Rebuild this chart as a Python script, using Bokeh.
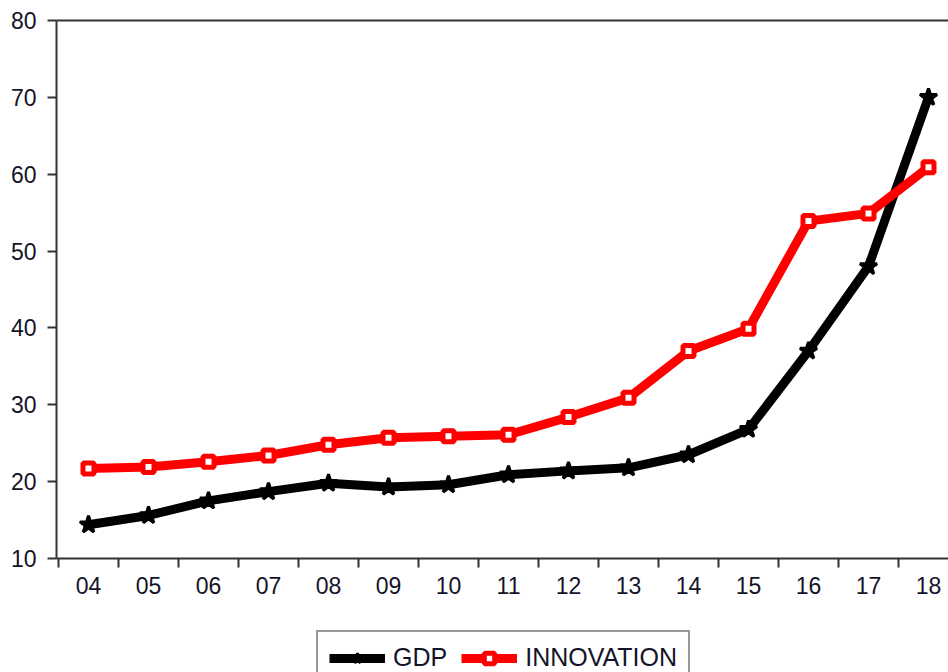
import numpy as np
from bokeh.plotting import figure
from bokeh.layouts import column
from bokeh.models import (Range1d, LinearAxis, FixedTicker, Legend, LegendItem)
from bokeh.embed import file_html
from bokeh.resources import INLINE

years = ["04", "05", "06", "07", "08", "09", "10", "11", "12", "13", "14", "15", "16", "17", "18"]
gdp = [14.4, 15.6, 17.5, 18.7, 19.8, 19.3, 19.6, 20.9, 21.4, 21.8, 23.5, 26.8, 37.0, 48.0, 70.0]
innovation = [21.7, 21.9, 22.6, 23.4, 24.8, 25.7, 25.9, 26.1, 28.4, 30.9, 37.0, 39.9, 53.9, 54.9, 60.9]
y_ticks = [10, 20, 30, 40, 50, 60, 70, 80]

x = list(range(len(years)))
FONT = "Liberation Sans"
TXT = "#141428"
AX = "#333333"

p = figure(width=948, height=620, output_backend="svg", toolbar_location=None,
           x_range=Range1d(-32/60, len(years) - 1 + 20/60), y_range=Range1d(10, 80),
           x_axis_location=None, y_axis_location=None,
           min_border_left=56, min_border_right=0, min_border_top=20, min_border_bottom=62)
p.xgrid.visible = False
p.ygrid.visible = False
p.outline_line_color = None

# left axis
ya = LinearAxis(ticker=FixedTicker(ticks=y_ticks))
ya.axis_line_color = AX
ya.axis_line_width = 2
ya.major_tick_line_color = AX
ya.major_tick_line_width = 2
ya.major_tick_out = 9
ya.major_tick_in = 0
ya.minor_tick_line_color = None
ya.major_label_text_font = FONT
ya.major_label_text_font_size = "23px"
ya.major_label_text_color = TXT
ya.major_label_standoff = 11
p.add_layout(ya, "left")

# top border
ta = LinearAxis(ticker=FixedTicker(ticks=[]))
ta.axis_line_color = AX
ta.axis_line_width = 2
ta.major_tick_line_color = None
ta.minor_tick_line_color = None
p.add_layout(ta, "above")

# bottom axis: labels at years, tick marks between years (minor ticks)
xl = LinearAxis(ticker=FixedTicker(ticks=x, minor_ticks=list(np.arange(len(years)) - 0.5)))
xl.major_label_overrides = {i: lab for i, lab in enumerate(years)}
xl.axis_line_color = AX
xl.axis_line_width = 2
xl.major_tick_line_color = None
xl.minor_tick_line_color = AX
xl.minor_tick_line_width = 2
xl.minor_tick_out = 9
xl.minor_tick_in = 0
xl.major_tick_out = 9
xl.major_tick_in = 0
xl.major_label_text_font = FONT
xl.major_label_text_font_size = "23px"
xl.major_label_text_color = TXT
xl.major_label_standoff = 9
p.add_layout(xl, "below")

GDP_LINE = dict(line_color="black", line_width=9)
GDP_MARK = dict(marker="star", size=18, fill_color="black", line_color="black", line_width=3)
INN_LINE = dict(line_color="#ff0000", line_width=9)
INN_MARK = dict(marker="square", size=11, fill_color="white", line_color="#ff0000", line_width=5)

p.line(x, gdp, **GDP_LINE)
p.scatter(x, gdp, **GDP_MARK)
p.line(x, innovation, **INN_LINE)
p.scatter(x, innovation, **INN_MARK)

# legend strip below the chart (series drawn outside its visible range; only the legend shows)
q = figure(width=948, height=52, output_backend="svg", toolbar_location=None,
           x_range=Range1d(0, 1), y_range=Range1d(0, 1),
           x_axis_location=None, y_axis_location=None,
           min_border_left=0, min_border_right=0, min_border_top=0, min_border_bottom=0)
q.xgrid.visible = False
q.ygrid.visible = False
q.outline_line_color = None
ql1 = q.line(x, gdp, **GDP_LINE)
qs1 = q.scatter(x, gdp, **GDP_MARK)
ql2 = q.line(x, innovation, **INN_LINE)
qs2 = q.scatter(x, innovation, **INN_MARK)

legend = Legend(items=[LegendItem(label="GDP", renderers=[ql1, qs1]),
                       LegendItem(label="INNOVATION", renderers=[ql2, qs2])],
                orientation="horizontal", location=(260, -13))
legend.label_text_font = FONT
legend.label_text_font_size = "25px"
legend.label_text_color = TXT
legend.glyph_width = 56
legend.glyph_height = 26
legend.label_standoff = 8
legend.spacing = 14
legend.padding = 11
legend.margin = 0
legend.border_line_color = AX
legend.border_line_width = 2
legend.background_fill_color = "white"
q.add_layout(legend, "center")

open("out.html", "w").write(file_html(column(p, q, spacing=0), INLINE))
